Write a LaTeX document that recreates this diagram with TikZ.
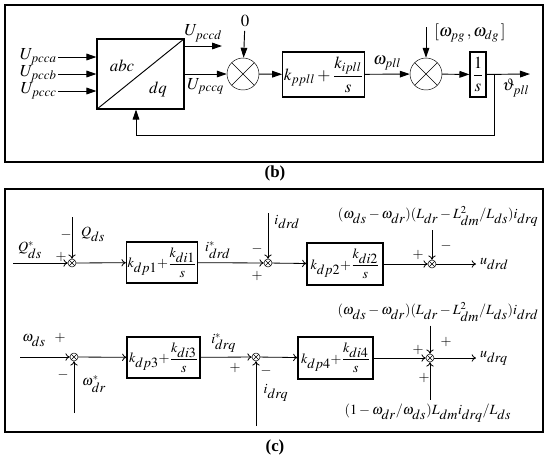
\documentclass[tikz,border=0pt]{standalone}
\usepackage{amsmath}
\usepackage{mathptmx}
\usepackage[no-math]{fontspec}
\setmainfont{Liberation Serif}
\usetikzlibrary{arrows.meta,positioning}
\tikzset{
  blk/.style={draw,line width=0.9pt,inner sep=1pt,align=center},
  sumb/.style={circle,draw,minimum size=0.96cm,inner sep=0pt,
    path picture={\draw (path picture bounding box.north west)--(path picture bounding box.south east)
      (path picture bounding box.north east)--(path picture bounding box.south west);}},
  sums/.style={sumb,minimum size=0.24cm},
  barr/.style={-{Triangle[length=3mm,width=2mm]},line width=0.8pt},
  carr/.style={-{To[length=1.3mm,width=2.2mm]},line width=0.7pt},
  sgn/.style={inner sep=0pt,font=\large},
  frm/.style={line width=0.9pt},
  captxt/.style={font=\Large\bfseries},
}
\newcommand{\lo}[1]{_{\textstyle #1}}

\begin{document}
\begin{tikzpicture}[x=0.03cm,y=-0.03cm,font=\Large]
\useasboundingbox (0,0) rectangle (550,462);
% (b) PLL
\draw[frm] (5,5) rectangle (543,162);
\node[blk,minimum width=2.61cm,minimum height=2.1cm] (tr) at (140.5,74) {};
\draw[line width=0.8pt] (tr.south west)--(tr.north east);
\node (abc) at (122,66) {$abc$};
\node (dq) at (158,89) {$dq$};
\node[anchor=east,inner sep=1pt] (ua) at (58,57) {$U_{pcca}$};
\node[anchor=east,inner sep=1pt] (ub) at (58,74) {$U_{pccb}$};
\node[anchor=east,inner sep=1pt] (uc) at (58,91) {$U_{pccc}$};
\draw[barr] (ua.east) -- (ua.east -| tr.west);
\draw[barr] (ub.east) -- (ub.east -| tr.west);
\draw[barr] (uc.east) -- (uc.east -| tr.west);
\coordinate (ud) at (222,46);
\draw[barr] (ud -| tr.east) -- node[above]{$U_{pccd}$} (ud);
\node[sumb] (s1) at (243,74) {};
\draw[barr] (tr.east |- s1) -- node[below]{$U_{pccq}$} (s1);
\node (zero) at (245,21) {$0$};
\draw[barr] (zero) -- (s1);
\node[blk,minimum width=2.37cm,minimum height=1.35cm] (pi) at (323.5,74.5) {$k_{ppll}+\dfrac{k_{ipll}}{s}$};
\draw[barr] (s1) -- (pi);
\node[sumb] (s2) at (426,74) {};
\draw[barr] (pi) -- node[above]{$\omega_{pll}$} (s2);
\node (wref) at (470,33) {$[\omega_{pg}\,,\omega_{dg}\,]$};
\coordinate (wtop) at (426,27);
\draw[barr] (wtop) -- (s2);
\node[blk,minimum width=0.48cm,minimum height=1.35cm] (int) at (478,74.5) {$\dfrac{1}{s}$};
\draw[barr] (s2) -- (int);
\coordinate (th) at (530,74);
\draw[barr] (int) -- (th);
\node (thl) at (516,88) {$\vartheta_{pll}$};
\coordinate (fb) at (494,74);
\coordinate (fbl) at (136,135);
\draw[barr] (fb) |- (fbl) -- (fbl |- tr.south);
\node[captxt] (capb) at (275,173) {(b)};
% (c) rotor side control
\begin{scope}[font=\large]
\draw[frm] (5,189) rectangle (543,432);
% d axis
\coordinate (qin) at (13,263);
\node[sums] (c1) at (72,263) {};
\draw[carr] (qin) -- (c1);
\node (qref) at (30,250) {$Q^*\lo{ds}$};
\node[sgn] at (61,257) {$+$};
\coordinate (qfb) at (72,217);
\draw[carr] (qfb) -- (c1);
\node (qds) at (93,234) {$Q\lo{ds}$};
\node[sgn] at (66,235) {$-$};
\node[blk,minimum width=2.1cm,minimum height=1.23cm] (b1) at (162,262.5) {$k\lo{dp1}{+}\dfrac{k\lo{di1}}{s}$};
\draw[carr] (c1) -- (b1);
\node[sums] (c2) at (268,263) {};
\draw[carr] (b1) -- node[pos=0.3,above]{$i^*\lo{drd}$} (c2);
\coordinate (idfb) at (268,213);
\draw[carr] (idfb) -- (c2);
\node (idl) at (287,222) {$i\lo{drd}$};
\node[sgn] at (257,249) {$-$};
\node[sgn] at (257,276) {$+$};
\node[blk,minimum width=2.28cm,minimum height=1.26cm] (b2) at (345,264) {$k\lo{dp2}{+}\dfrac{k\lo{di2}}{s}$};
\draw[carr] (c2) -- (b2);
\node[sums] (c3) at (432,264) {};
\draw[carr] (b2) -- (c3);
\node[sgn] at (418,255) {$+$};
\node[sgn] at (446,246) {$-$};
\node (t1) at (438,216) {$(\omega\lo{ds}-\omega\lo{dr})(L\lo{dr}-L^2\lo{dm}/L\lo{ds})i\lo{drq}$};
\draw[carr] (t1.south -| c3) -- (c3);
\coordinate (udd) at (476,264);
\draw[carr] (c3) -- (udd);
\node[right=0pt of udd] (udl) {$u\lo{drd}$};
% q axis
\coordinate (win) at (20,357);
\node[sums] (c4) at (74,357) {};
\draw[carr] (win) -- (c4);
\node (wds) at (34,341) {$\omega\lo{ds}$};
\node[sgn] at (60,338) {$+$};
\coordinate (wdr) at (74,413);
\draw[carr] (wdr) -- (c4);
\node (wdrl) at (94,384) {$\omega^*\lo{dr}$};
\node[sgn] at (63,375) {$-$};
\node[blk,minimum width=2.19cm,minimum height=1.23cm] (b3) at (163.5,357.5) {$k\lo{dp3}{+}\dfrac{k\lo{di3}}{s}$};
\draw[carr] (c4) -- (b3);
\node[sums] (c5) at (256,357) {};
\draw[carr] (b3) -- node[pos=0.45,above]{$i^*\lo{drq}$} (c5);
\node[sgn] at (235,368) {$+$};
\node[sgn] at (266,371) {$-$};
\coordinate (iqb) at (256,426);
\draw[carr] (iqb) -- (c5);
\node (iql) at (276,393) {$i\lo{drq}$};
\node[blk,minimum width=2.25cm,minimum height=1.26cm] (b4) at (335.5,358) {$k\lo{dp4}{+}\dfrac{k\lo{di4}}{s}$};
\draw[carr] (c5) -- (b4);
\node[sums] (c6) at (430,358) {};
\draw[carr] (b4) -- (c6);
\node[sgn] at (418,350) {$+$};
\node[sgn] at (446,342) {$+$};
\node[sgn] at (424,378) {$+$};
\node (t2) at (438,312) {$(\omega\lo{ds}-\omega\lo{dr})(L\lo{dr}-L^2\lo{dm}/L\lo{ds})i\lo{drd}$};
\node (t3) at (428,413) {$(1-\omega\lo{dr}/\omega\lo{ds})L\lo{dm}i\lo{drq}/L\lo{ds}$};
\draw[carr] (t2.south -| c6) -- (c6);
\draw[carr] (t3.north -| c6) -- (c6);
\coordinate (udq) at (476,358);
\draw[carr] (c6) -- (udq);
\node[right=0pt of udq] (uql) {$u\lo{drq}$};
\end{scope}
\node[captxt] (capc) at (275,447) {(c)};
\end{tikzpicture}
\end{document}
